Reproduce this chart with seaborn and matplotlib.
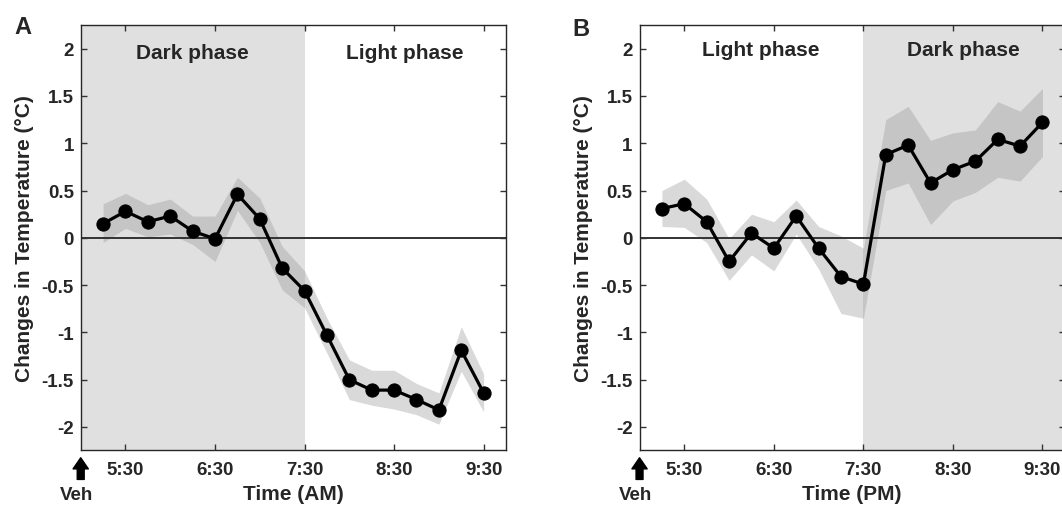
import numpy as np
import pandas as pd
import seaborn as sns
import matplotlib
matplotlib.use("Agg")
import matplotlib.pyplot as plt

# time points (15 min bins after vehicle injection at 5:00)
times = ["5:15", "5:30", "5:45", "6:00", "6:15", "6:30", "6:45", "7:00", "7:15",
         "7:30", "7:45", "8:00", "8:15", "8:30", "8:45", "9:00", "9:15", "9:30"]
tick_labels = ["5:30", "6:30", "7:30", "8:30", "9:30"]
y_ticks = [-2, -1.5, -1, -0.5, 0, 0.5, 1, 1.5, 2]

# panel A (AM)
a_mean = [0.15, 0.28, 0.17, 0.23, 0.07, -0.01, 0.46, 0.20, -0.32, -0.56,
          -1.03, -1.50, -1.61, -1.61, -1.71, -1.82, -1.19, -1.64]
a_upper = [0.36, 0.47, 0.35, 0.41, 0.23, 0.23, 0.64, 0.42, -0.09, -0.35,
           -0.85, -1.29, -1.40, -1.40, -1.54, -1.64, -0.94, -1.44]
a_lower = [-0.05, 0.10, 0.01, 0.04, -0.07, -0.25, 0.29, -0.05, -0.55, -0.74,
           -1.22, -1.71, -1.77, -1.81, -1.87, -1.97, -1.41, -1.84]

# panel B (PM)
b_mean = [0.31, 0.36, 0.17, -0.25, 0.05, -0.11, 0.23, -0.11, -0.41, -0.49,
          0.88, 0.98, 0.58, 0.72, 0.81, 1.04, 0.97, 1.22]
b_upper = [0.50, 0.62, 0.41, -0.01, 0.25, 0.17, 0.40, 0.12, 0.02, -0.11,
           1.25, 1.39, 1.03, 1.11, 1.14, 1.44, 1.34, 1.58]
b_lower = [0.12, 0.11, -0.05, -0.45, -0.18, -0.35, 0.04, -0.33, -0.80, -0.85,
           0.50, 0.58, 0.14, 0.39, 0.48, 0.64, 0.60, 0.86]


def to_min(s):
    h, m = s.split(":")
    return (int(h) - 5) * 60 + int(m)


sns.set_style("ticks")
plt.rcParams['font.family'] = ['Liberation Sans', 'DejaVu Sans']
plt.rcParams['font.weight'] = 'bold'
plt.rcParams['axes.unicode_minus'] = False

fig = plt.figure(figsize=(10.62, 5.06), dpi=100)
axA = fig.add_axes([0.076, 0.1093, 0.4005, 0.8393])
axB = fig.add_axes([0.6022, 0.1093, 0.4005, 0.8393])


def panel(ax, mean, lo, hi, dark_first, xlab, lab1, lab2, lab1_x, lab_y):
    df = pd.DataFrame({"t": [to_min(t) for t in times], "v": mean})
    if dark_first:
        ax.axvspan(0, 150, color="#e0e0e0", lw=0, zorder=0)
    else:
        ax.axvspan(150, 285, color="#e0e0e0", lw=0, zorder=0)
    ax.fill_between(df["t"], lo, hi, color="#969696", alpha=0.36, lw=0, zorder=1)
    ax.axhline(0, color="#333333", lw=1.4, zorder=2)
    sns.lineplot(data=df, x="t", y="v", ax=ax, color="black", lw=2.3,
                 marker="o", markersize=9.5, markeredgecolor="black", zorder=3)
    ax.set_xlim(0, 285)
    ax.set_ylim(-2.24, 2.25)
    ax.set_xticks([to_min(t) for t in tick_labels])
    ax.set_xticklabels(tick_labels)
    ax.set_yticks(y_ticks)
    ax.set_yticklabels(["%g" % v for v in y_ticks])
    ax.tick_params(direction="in", top=True, right=True, length=4, width=1,
                   color="#333333", labelsize=13.5)
    ax.tick_params(axis="x", pad=8)
    ax.tick_params(axis="y", pad=5)
    for sp in ax.spines.values():
        sp.set_visible(True)
        sp.set_color("#262626")
        sp.set_linewidth(1.0)
    ax.set_xlabel(xlab, fontsize=15, fontweight="bold")
    ax.set_ylabel("Changes in Temperature (°C)", fontsize=15, fontweight="bold")
    ax.xaxis.set_label_coords(0.5, -0.08)
    ax.yaxis.set_label_coords(-0.11, 0.5)
    ax.text(lab1_x, lab_y, lab1, ha="center", va="baseline", fontsize=15, fontweight="bold")
    ax.text(217, lab_y, lab2, ha="center", va="baseline", fontsize=15, fontweight="bold")
    # injection arrow + label
    ax.annotate("", xy=(0, -0.019), xytext=(0, -0.07), xycoords="axes fraction",
                arrowprops=dict(arrowstyle="simple,head_length=0.8,head_width=1.1,tail_width=0.5",
                                color="black", shrinkA=0, shrinkB=0),
                annotation_clip=False)
    ax.text(-0.009, -0.106, "Veh", transform=ax.transAxes, ha="center", va="center",
            fontsize=13.5, fontweight="bold")


panel(axA, a_mean, a_lower, a_upper, True, "Time (AM)", "Dark phase", "Light phase", 75, 1.9)
panel(axB, b_mean, b_lower, b_upper, False, "Time (PM)", "Light phase", "Dark phase", 81, 1.93)

fig.text(0.0212, 0.9466, "A", ha="center", va="center", fontsize=17, fontweight="bold")
fig.text(0.547, 0.941, "B", ha="center", va="center", fontsize=17, fontweight="bold")

fig.savefig("out.png", dpi=100)
